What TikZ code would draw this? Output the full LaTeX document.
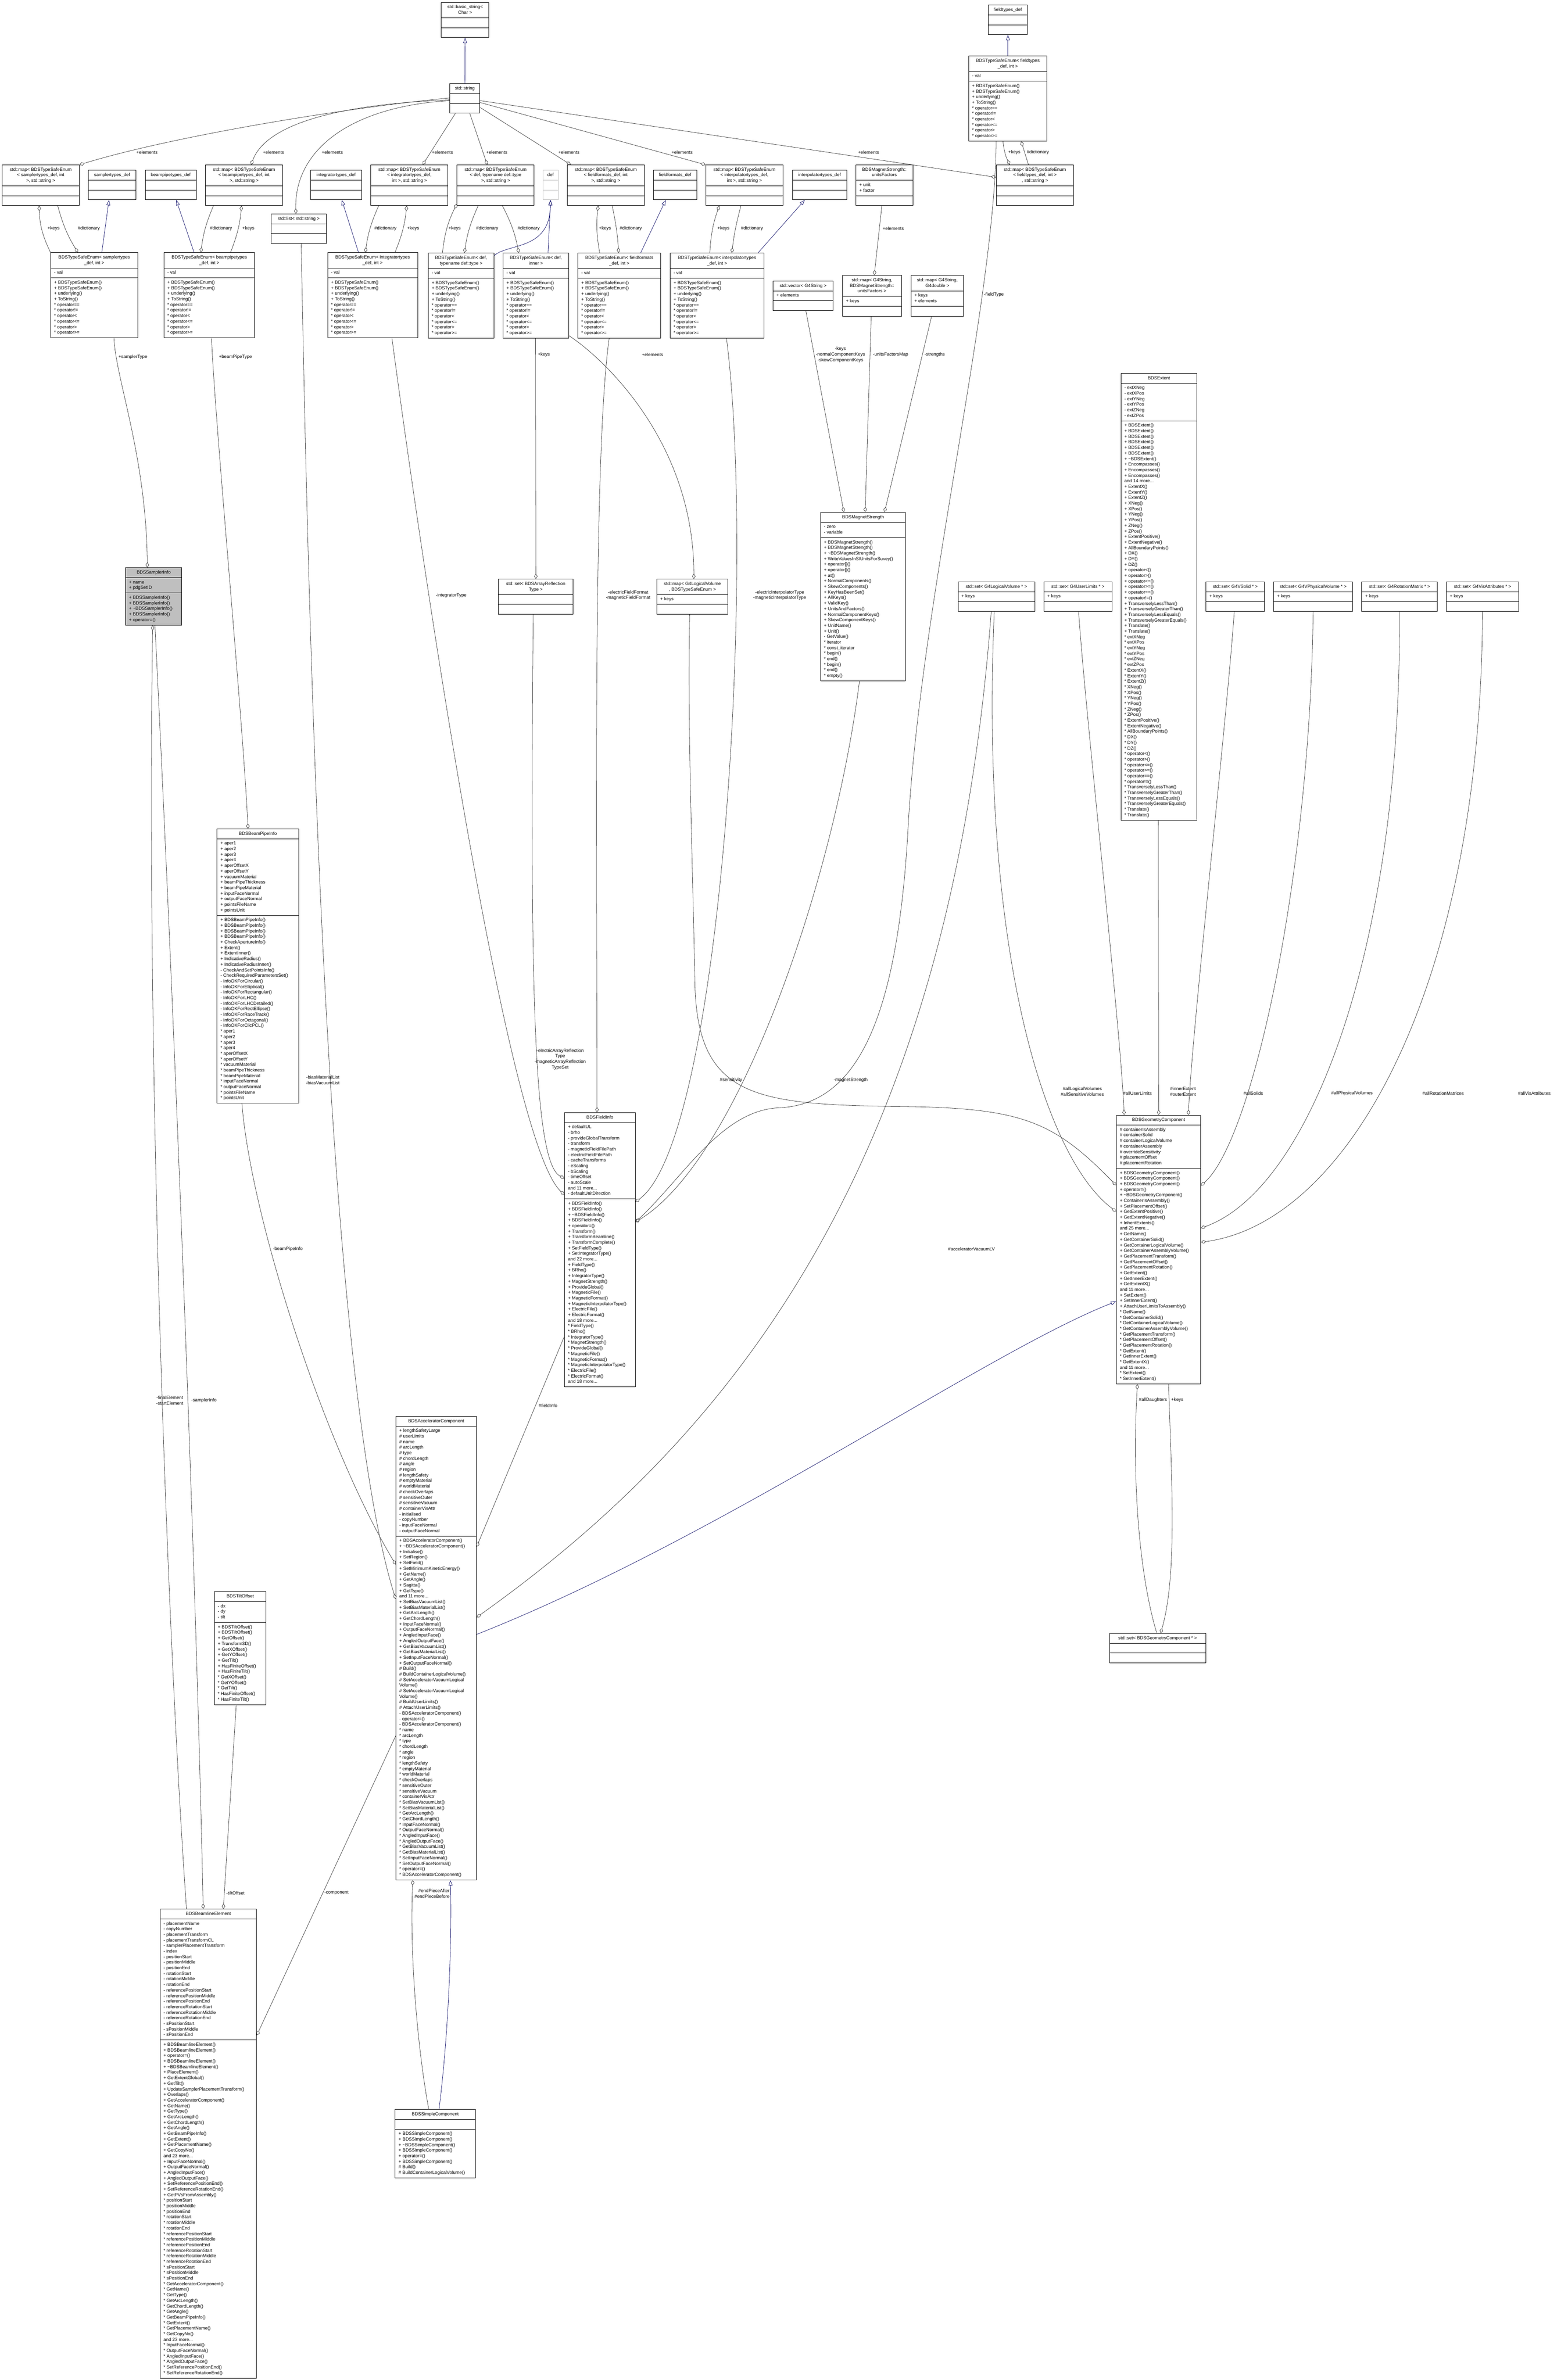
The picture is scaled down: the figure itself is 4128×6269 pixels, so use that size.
\documentclass[tikz,border=0pt]{standalone}
\usepackage{fontspec}
\setmainfont{Liberation Sans}
\usetikzlibrary{shapes.multipart, arrows.meta}

\definecolor{edgegrey}{HTML}{404040}
\definecolor{inhblue}{HTML}{191970}
\definecolor{boxgrey}{HTML}{BFBFBF}

\newcommand{\ttl}[1]{\begin{tabular}{@{}c@{}}#1\end{tabular}}
\newcommand{\rows}[1]{\begin{tabular}{@{}l@{}}#1\end{tabular}}
\newcommand{\enumops}{\rows{+ BDSTypeSafeEnum()\\+ BDSTypeSafeEnum()\\+ underlying()\\+ ToString()\\{*} operator==\\{*} operator!=\\{*} operator<\\{*} operator<=\\{*} operator>\\{*} operator>=}}

\tikzset{
  cls/.style={draw=black, line width=1.2pt, fill=white, rectangle split, rectangle split parts=3,
    rectangle split part align={center,left,left}, rectangle split empty part height=10.26pt,
    rectangle split empty part depth=4.4pt, inner xsep=9pt, inner ysep=5pt, anchor=north west,
    font=\fontsize{12}{14.66}\selectfont},
  agg/.style={draw=edgegrey, line width=1pt, {Diamond[open,length=14pt,width=9pt]}-},
  agge/.style={draw=edgegrey, line width=1pt, -{Diamond[open,length=14pt,width=9pt]}},
  inh/.style={draw=inhblue, line width=1pt, -{Triangle[open,length=14pt,width=10pt]}},
  lbl/.style={font=\fontsize{12}{14.66}\selectfont, inner sep=0pt, align=center}
}

\begin{document}
\begin{tikzpicture}[x=1pt, y=-1pt]
  \fill[white] (0,0) rectangle (4128,6269);
  \useasboundingbox (0,0) rectangle (4128,6269);

  % top row
  \node[cls, minimum width=126pt] (basic) at (1161,6) {\ttl{std::basic\_string<\\Char >}\nodepart{two}\nodepart{three}};
  \node[cls, minimum width=79pt] (str) at (1184,220) {\ttl{std::string}\nodepart{two}\nodepart{three}};
  \node[cls, minimum width=102pt] (fieldtypesDef) at (2602,13) {\ttl{fieldtypes\_def}\nodepart{two}\nodepart{three}};
  \node[cls, minimum width=206pt] (enumFieldtypes) at (2550,147) {\ttl{BDSTypeSafeEnum< fieldtypes\\\_def, int >}\nodepart{two}\rows{- val}\nodepart{three}\enumops};

  \node[cls, minimum width=203pt] (mapSampler) at (5,434) {\ttl{std::map< BDSTypeSafeEnum\\< samplertypes\_def, int\\>, std::string >}\nodepart{two}\nodepart{three}};
  \node[cls, minimum width=125pt] (samplerDef) at (232,448) {\ttl{samplertypes\_def}\nodepart{two}\nodepart{three}};
  \node[cls, minimum width=134pt] (beampipeDef) at (382,448) {\ttl{beampipetypes\_def}\nodepart{two}\nodepart{three}};
  \node[cls, minimum width=202pt] (mapBeampipe) at (541,434) {\ttl{std::map< BDSTypeSafeEnum\\< beampipetypes\_def, int\\>, std::string >}\nodepart{two}\nodepart{three}};
  \node[cls, minimum width=146pt] (strList) at (713,563) {\ttl{std::list< std::string >}\nodepart{two}\nodepart{three}};
  \node[cls, minimum width=133pt] (integratorDef) at (818,448) {\ttl{integratortypes\_def}\nodepart{two}\nodepart{three}};
  \node[cls, minimum width=203pt] (mapIntegrator) at (976,434) {\ttl{std::map< BDSTypeSafeEnum\\< integratortypes\_def,\\int >, std::string >}\nodepart{two}\nodepart{three}};
  \node[cls, minimum width=203pt] (mapDef) at (1203,434) {\ttl{std::map< BDSTypeSafeEnum\\< def, typename def::type\\>, std::string >}\nodepart{two}\nodepart{three}};
  \node[cls, draw=boxgrey, minimum width=40pt] (def) at (1429,448) {\ttl{def}\nodepart{two}\nodepart{three}};
  \node[cls, minimum width=203pt] (mapFieldformats) at (1493,434) {\ttl{std::map< BDSTypeSafeEnum\\< fieldformats\_def, int\\>, std::string >}\nodepart{two}\nodepart{three}};
  \node[cls, minimum width=114pt] (fieldformatsDef) at (1720,448) {\ttl{fieldformats\_def}\nodepart{two}\nodepart{three}};
  \node[cls, minimum width=203pt] (mapInterp) at (1858,434) {\ttl{std::map< BDSTypeSafeEnum\\< interpolatortypes\_def,\\int >, std::string >}\nodepart{two}\nodepart{three}};
  \node[cls, minimum width=143pt] (interpDef) at (2086,448) {\ttl{interpolatortypes\_def}\nodepart{two}\nodepart{three}};
  \node[cls, minimum width=150pt] (unitsFactors) at (2253,434) {\ttl{BDSMagnetStrength::\\unitsFactors}\nodepart{two}\rows{+ unit\\+ factor}\nodepart{three}};
  \node[cls, minimum width=203pt] (mapFieldtypes) at (2623,434) {\ttl{std::map< BDSTypeSafeEnum\\< fieldtypes\_def, int >\\, std::string >}\nodepart{two}\nodepart{three}};

  % enums
  \node[cls, minimum width=229pt] (enumSampler) at (133,665) {\ttl{BDSTypeSafeEnum< samplertypes\\\_def, int >}\nodepart{two}\rows{- val}\nodepart{three}\enumops};
  \node[cls, minimum width=239pt] (enumBeampipe) at (431,665) {\ttl{BDSTypeSafeEnum< beampipetypes\\\_def, int >}\nodepart{two}\rows{- val}\nodepart{three}\enumops};
  \node[cls, minimum width=237pt] (enumIntegrator) at (862,665) {\ttl{BDSTypeSafeEnum< integratortypes\\\_def, int >}\nodepart{two}\rows{- val}\nodepart{three}\enumops};
  \node[cls, minimum width=173pt] (enumDefType) at (1127,666) {\ttl{BDSTypeSafeEnum< def,\\typename def::type >}\nodepart{two}\rows{- val}\nodepart{three}\enumops};
  \node[cls, minimum width=173pt] (enumDefInner) at (1324,666) {\ttl{BDSTypeSafeEnum< def,\\inner >}\nodepart{two}\rows{- val}\nodepart{three}\enumops};
  \node[cls, minimum width=218pt] (enumFieldformats) at (1521,666) {\ttl{BDSTypeSafeEnum< fieldformats\\\_def, int >}\nodepart{two}\rows{- val}\nodepart{three}\enumops};
  \node[cls, minimum width=247pt] (enumInterp) at (1764,666) {\ttl{BDSTypeSafeEnum< interpolatortypes\\\_def, int >}\nodepart{two}\rows{- val}\nodepart{three}\enumops};

  % containers of the magnet strength
  \node[cls, minimum width=158pt] (vecG4String) at (2035,740) {\ttl{std::vector< G4String >}\nodepart{two}\rows{+ elements}\nodepart{three}};
  \node[cls, minimum width=155pt] (mapUnits) at (2218,725) {\ttl{std::map< G4String,\\BDSMagnetStrength::\\unitsFactors >}\nodepart{two}\rows{+ keys}\nodepart{three}};
  \node[cls, minimum width=139pt] (mapDouble) at (2398,725) {\ttl{std::map< G4String,\\G4double >}\nodepart{two}\rows{+ keys\\+ elements}\nodepart{three}};

  \node[cls, minimum width=224pt] (magStrength) at (2160,1349) {\ttl{BDSMagnetStrength}\nodepart{two}\rows{- zero\\- variable}\nodepart{three}\rows{+ BDSMagnetStrength()\\+ BDSMagnetStrength()\\+ \textasciitilde BDSMagnetStrength()\\+ WriteValuesInSIUnitsForSuvey()\\+ operator[]()\\+ operator[]()\\+ at()\\+ NormalComponents()\\+ SkewComponents()\\+ KeyHasBeenSet()\\+ AllKeys()\\+ ValidKey()\\+ UnitsAndFactors()\\+ NormalComponentKeys()\\+ SkewComponentKeys()\\+ UnitName()\\+ Unit()\\- GetValue()\\{*} iterator\\{*} const\_iterator\\{*} begin()\\{*} end()\\{*} begin()\\{*} end()\\{*} empty()}};

  \node[cls, minimum width=200pt] (extent) at (2951,983) {\ttl{BDSExtent}\nodepart{two}\rows{- extXNeg\\- extXPos\\- extYNeg\\- extYPos\\- extZNeg\\- extZPos}\nodepart{three}\rows{+ BDSExtent()\\+ BDSExtent()\\+ BDSExtent()\\+ BDSExtent()\\+ BDSExtent()\\+ BDSExtent()\\+ \textasciitilde BDSExtent()\\+ Encompasses()\\+ Encompasses()\\+ Encompasses()\\and 14 more...\\+ ExtentX()\\+ ExtentY()\\+ ExtentZ()\\+ XNeg()\\+ XPos()\\+ YNeg()\\+ YPos()\\+ ZNeg()\\+ ZPos()\\+ ExtentPositive()\\+ ExtentNegative()\\+ AllBoundaryPoints()\\+ DX()\\+ DY()\\+ DZ()\\+ operator<()\\+ operator>()\\+ operator<=()\\+ operator>=()\\+ operator==()\\+ operator!=()\\+ TransverselyLessThan()\\+ TransverselyGreaterThan()\\+ TransverselyLessEquals()\\+ TransverselyGreaterEquals()\\+ Translate()\\+ Translate()\\{*} extXNeg\\{*} extXPos\\{*} extYNeg\\{*} extYPos\\{*} extZNeg\\{*} extZPos\\{*} ExtentX()\\{*} ExtentY()\\{*} ExtentZ()\\{*} XNeg()\\{*} XPos()\\{*} YNeg()\\{*} YPos()\\{*} ZNeg()\\{*} ZPos()\\{*} ExtentPositive()\\{*} ExtentNegative()\\{*} AllBoundaryPoints()\\{*} DX()\\{*} DY()\\{*} DZ()\\{*} operator<()\\{*} operator>()\\{*} operator<=()\\{*} operator>=()\\{*} operator==()\\{*} operator!=()\\{*} TransverselyLessThan()\\{*} TransverselyGreaterThan()\\{*} TransverselyLessEquals()\\{*} TransverselyGreaterEquals()\\{*} Translate()\\{*} Translate()}};

  % sets
  \node[cls, minimum width=196pt] (setReflection) at (1312,1525) {\ttl{std::set< BDSArrayReflection\\Type >}\nodepart{two}\nodepart{three}};
  \node[cls, minimum width=187pt] (mapLVEnum) at (1729,1525) {\ttl{std::map< G4LogicalVolume\\*, BDSTypeSafeEnum >}\nodepart{two}\rows{+ keys}\nodepart{three}};
  \node[cls, minimum width=202pt] (setLV) at (2522,1532) {\ttl{std::set< G4LogicalVolume * >}\nodepart{two}\rows{+ keys}\nodepart{three}};
  \node[cls, minimum width=179pt] (setUL) at (2748,1532) {\ttl{std::set< G4UserLimits * >}\nodepart{two}\rows{+ keys}\nodepart{three}};
  \node[cls, minimum width=154pt] (setSolid) at (3175,1532) {\ttl{std::set< G4VSolid * >}\nodepart{two}\rows{+ keys}\nodepart{three}};
  \node[cls, minimum width=208pt] (setPV) at (3353,1532) {\ttl{std::set< G4VPhysicalVolume * >}\nodepart{two}\rows{+ keys}\nodepart{three}};
  \node[cls, minimum width=199pt] (setRot) at (3585,1532) {\ttl{std::set< G4RotationMatrix * >}\nodepart{two}\rows{+ keys}\nodepart{three}};
  \node[cls, minimum width=190pt] (setVis) at (3808,1532) {\ttl{std::set< G4VisAttributes * >}\nodepart{two}\rows{+ keys}\nodepart{three}};

  \node[cls, fill=boxgrey, minimum width=148pt] (samplerInfo) at (330,1495) {\ttl{BDSSamplerInfo}\nodepart{two}\rows{+ name\\+ pdgSetID}\nodepart{three}\rows{+ BDSSamplerInfo()\\+ BDSSamplerInfo()\\+ \textasciitilde BDSSamplerInfo()\\+ BDSSamplerInfo()\\+ operator=()}};

  \node[cls, minimum width=215pt] (beamPipeInfo) at (571,2183) {\ttl{BDSBeamPipeInfo}\nodepart{two}\rows{+ aper1\\+ aper2\\+ aper3\\+ aper4\\+ aperOffsetX\\+ aperOffsetY\\+ vacuumMaterial\\+ beamPipeThickness\\+ beamPipeMaterial\\+ inputFaceNormal\\+ outputFaceNormal\\+ pointsFileName\\+ pointsUnit}\nodepart{three}\rows{+ BDSBeamPipeInfo()\\+ BDSBeamPipeInfo()\\+ BDSBeamPipeInfo()\\+ BDSBeamPipeInfo()\\+ CheckApertureInfo()\\+ Extent()\\+ ExtentInner()\\+ IndicativeRadius()\\+ IndicativeRadiusInner()\\- CheckAndSetPointsInfo()\\- CheckRequiredParametersSet()\\- InfoOKForCircular()\\- InfoOKForElliptical()\\- InfoOKForRectangular()\\- InfoOKForLHC()\\- InfoOKForLHCDetailed()\\- InfoOKForRectEllipse()\\- InfoOKForRaceTrack()\\- InfoOKForOctagonal()\\- InfoOKForClicPCL()\\{*} aper1\\{*} aper2\\{*} aper3\\{*} aper4\\{*} aperOffsetX\\{*} aperOffsetY\\{*} vacuumMaterial\\{*} beamPipeThickness\\{*} beamPipeMaterial\\{*} inputFaceNormal\\{*} outputFaceNormal\\{*} pointsFileName\\{*} pointsUnit}};

  \node[cls, minimum width=186pt] (fieldInfo) at (1486,2930) {\ttl{BDSFieldInfo}\nodepart{two}\rows{+ defaultUL\\- brho\\- provideGlobalTransform\\- transform\\- magneticFieldFilePath\\- electricFieldFilePath\\- cacheTransforms\\- eScaling\\- bScaling\\- timeOffset\\- autoScale\\and 11 more...\\- defaultUnitDirection}\nodepart{three}\rows{+ BDSFieldInfo()\\+ BDSFieldInfo()\\+ \textasciitilde BDSFieldInfo()\\+ BDSFieldInfo()\\+ operator=()\\+ Transform()\\+ TransformBeamline()\\+ TransformComplete()\\+ SetFieldType()\\+ SetIntegratorType()\\and 22 more...\\+ FieldType()\\+ BRho()\\+ IntegratorType()\\+ MagnetStrength()\\+ ProvideGlobal()\\+ MagneticFile()\\+ MagneticFormat()\\+ MagneticInterpolatorType()\\+ ElectricFile()\\+ ElectricFormat()\\and 18 more...\\{*} FieldType()\\{*} BRho()\\{*} IntegratorType()\\{*} MagnetStrength()\\{*} ProvideGlobal()\\{*} MagneticFile()\\{*} MagneticFormat()\\{*} MagneticInterpolatorType()\\{*} ElectricFile()\\{*} ElectricFormat()\\and 18 more...}};

  \node[cls, minimum width=222pt] (geomComp) at (2939,2937) {\ttl{BDSGeometryComponent}\nodepart{two}\rows{\# containerIsAssembly\\\# containerSolid\\\# containerLogicalVolume\\\# containerAssembly\\\# overrideSensitivity\\\# placementOffset\\\# placementRotation}\nodepart{three}\rows{+ BDSGeometryComponent()\\+ BDSGeometryComponent()\\+ BDSGeometryComponent()\\+ operator=()\\+ \textasciitilde BDSGeometryComponent()\\+ ContainerIsAssembly()\\+ SetPlacementOffset()\\+ GetExtentPositive()\\+ GetExtentNegative()\\+ InheritExtents()\\and 25 more...\\+ GetName()\\+ GetContainerSolid()\\+ GetContainerLogicalVolume()\\+ GetContainerAssemblyVolume()\\+ GetPlacementTransform()\\+ GetPlacementOffset()\\+ GetPlacementRotation()\\+ GetExtent()\\+ GetInnerExtent()\\+ GetExtentX()\\and 11 more...\\+ SetExtent()\\+ SetInnerExtent()\\+ AttachUserLimitsToAssembly()\\{*} GetName()\\{*} GetContainerSolid()\\{*} GetContainerLogicalVolume()\\{*} GetContainerAssemblyVolume()\\{*} GetPlacementTransform()\\{*} GetPlacementOffset()\\{*} GetPlacementRotation()\\{*} GetExtent()\\{*} GetInnerExtent()\\{*} GetExtentX()\\and 11 more...\\{*} SetExtent()\\{*} SetInnerExtent()}};

  \node[cls, minimum width=212pt] (accComp) at (1042,3730) {\ttl{BDSAcceleratorComponent}\nodepart{two}\rows{+ lengthSafetyLarge\\\# userLimits\\\# name\\\# arcLength\\\# type\\\# chordLength\\\# angle\\\# region\\\# lengthSafety\\\# emptyMaterial\\\# worldMaterial\\\# checkOverlaps\\\# sensitiveOuter\\\# sensitiveVacuum\\\# containerVisAttr\\- initialised\\- copyNumber\\- inputFaceNormal\\- outputFaceNormal}\nodepart{three}\rows{+ BDSAcceleratorComponent()\\+ \textasciitilde BDSAcceleratorComponent()\\+ Initialise()\\+ SetRegion()\\+ SetField()\\+ SetMinimumKineticEnergy()\\+ GetName()\\+ GetAngle()\\+ Sagitta()\\+ GetType()\\and 11 more...\\+ SetBiasVacuumList()\\+ SetBiasMaterialList()\\+ GetArcLength()\\+ GetChordLength()\\+ InputFaceNormal()\\+ OutputFaceNormal()\\+ AngledInputFace()\\+ AngledOutputFace()\\+ GetBiasVacuumList()\\+ GetBiasMaterialList()\\+ SetInputFaceNormal()\\+ SetOutputFaceNormal()\\\# Build()\\\# BuildContainerLogicalVolume()\\\# SetAcceleratorVacuumLogical\\Volume()\\\# SetAcceleratorVacuumLogical\\Volume()\\\# BuildUserLimits()\\\# AttachUserLimits()\\- BDSAcceleratorComponent()\\- operator=()\\- BDSAcceleratorComponent()\\{*} name\\{*} arcLength\\{*} type\\{*} chordLength\\{*} angle\\{*} region\\{*} lengthSafety\\{*} emptyMaterial\\{*} worldMaterial\\{*} checkOverlaps\\{*} sensitiveOuter\\{*} sensitiveVacuum\\{*} containerVisAttr\\{*} SetBiasVacuumList()\\{*} SetBiasMaterialList()\\{*} GetArcLength()\\{*} GetChordLength()\\{*} InputFaceNormal()\\{*} OutputFaceNormal()\\{*} AngledInputFace()\\{*} AngledOutputFace()\\{*} GetBiasVacuumList()\\{*} GetBiasMaterialList()\\{*} SetInputFaceNormal()\\{*} SetOutputFaceNormal()\\{*} operator=()\\{*} BDSAcceleratorComponent()}};

  \node[cls, minimum width=136pt] (tiltOffset) at (564,4192) {\ttl{BDSTiltOffset}\nodepart{two}\rows{- dx\\- dy\\- tilt}\nodepart{three}\rows{+ BDSTiltOffset()\\+ BDSTiltOffset()\\+ GetOffset()\\+ Transform3D()\\+ GetXOffset()\\+ GetYOffset()\\+ GetTilt()\\+ HasFiniteOffset()\\+ HasFiniteTilt()\\{*} GetXOffset()\\{*} GetYOffset()\\{*} GetTilt()\\{*} HasFiniteOffset()\\{*} HasFiniteTilt()}};

  \node[cls, minimum width=253pt] (setGeom) at (2921,4302) {\ttl{std::set< BDSGeometryComponent * >}\nodepart{two}\nodepart{three}};

  \node[cls, minimum width=254pt] (beamlineEl) at (421,5028) {\ttl{BDSBeamlineElement}\nodepart{two}\rows{- placementName\\- copyNumber\\- placementTransform\\- placementTransformCL\\- samplerPlacementTransform\\- index\\- positionStart\\- positionMiddle\\- positionEnd\\- rotationStart\\- rotationMiddle\\- rotationEnd\\- referencePositionStart\\- referencePositionMiddle\\- referencePositionEnd\\- referenceRotationStart\\- referenceRotationMiddle\\- referenceRotationEnd\\- sPositionStart\\- sPositionMiddle\\- sPositionEnd}\nodepart{three}\rows{+ BDSBeamlineElement()\\+ BDSBeamlineElement()\\+ operator=()\\+ BDSBeamlineElement()\\+ \textasciitilde BDSBeamlineElement()\\+ PlaceElement()\\+ GetExtentGlobal()\\+ GetTilt()\\+ UpdateSamplerPlacementTransform()\\+ Overlaps()\\+ GetAcceleratorComponent()\\+ GetName()\\+ GetType()\\+ GetArcLength()\\+ GetChordLength()\\+ GetAngle()\\+ GetBeamPipeInfo()\\+ GetExtent()\\+ GetPlacementName()\\+ GetCopyNo()\\and 23 more...\\+ InputFaceNormal()\\+ OutputFaceNormal()\\+ AngledInputFace()\\+ AngledOutputFace()\\+ SetReferencePositionEnd()\\+ SetReferenceRotationEnd()\\+ GetPVsFromAssembly()\\{*} positionStart\\{*} positionMiddle\\{*} positionEnd\\{*} rotationStart\\{*} rotationMiddle\\{*} rotationEnd\\{*} referencePositionStart\\{*} referencePositionMiddle\\{*} referencePositionEnd\\{*} referenceRotationStart\\{*} referenceRotationMiddle\\{*} referenceRotationEnd\\{*} sPositionStart\\{*} sPositionMiddle\\{*} sPositionEnd\\{*} GetAcceleratorComponent()\\{*} GetName()\\{*} GetType()\\{*} GetArcLength()\\{*} GetChordLength()\\{*} GetAngle()\\{*} GetBeamPipeInfo()\\{*} GetExtent()\\{*} GetPlacementName()\\{*} GetCopyNo()\\and 23 more...\\{*} InputFaceNormal()\\{*} OutputFaceNormal()\\{*} AngledInputFace()\\{*} AngledOutputFace()\\{*} SetReferencePositionEnd()\\{*} SetReferenceRotationEnd()}};

  \node[cls, minimum width=211pt] (simpleComp) at (1040,5556) {\ttl{BDSSimpleComponent}\nodepart{two}\nodepart{three}\rows{+ BDSSimpleComponent()\\+ BDSSimpleComponent()\\+ \textasciitilde BDSSimpleComponent()\\+ BDSSimpleComponent()\\+ operator=()\\+ BDSSimpleComponent()\\\# Build()\\\# BuildContainerLogicalVolume()}};

  % inheritance
  \draw[inh] (str.north) -- (basic.south);
  \draw[inh] ([xshift=135pt]enumSampler.north west) -- ([xshift=55pt]samplerDef.south west);
  \draw[inh] ([xshift=80pt]enumBeampipe.north west) -- ([xshift=82pt]beampipeDef.south west);
  \draw[inh] ([xshift=82pt]enumIntegrator.north west) -- ([xshift=82pt]integratorDef.south west);
  \draw[inh] ([yshift=-7pt]enumDefType.north east) .. controls (1340,640) and (1448,660) .. (def.south);
  \draw[inh] ([xshift=119pt]enumDefInner.north west) -- (def.south);
  \draw[inh] ([xshift=166pt]enumFieldformats.north west) -- ([xshift=33pt]fieldformatsDef.south west);
  \draw[inh] ([xshift=232pt]enumInterp.north west) -- ([xshift=33pt]interpDef.south west);
  \draw[inh] ([xshift=104pt]enumFieldtypes.north west) -- ([xshift=52pt]fieldtypesDef.south west);
  \draw[inh] ([yshift=-575pt]accComp.north east) .. controls (1900,4050) and (2600,3560) .. ([yshift=-491pt]geomComp.north west);
  \draw[inh] ([xshift=116pt]simpleComp.north west) .. controls (1182,5350) and (1190,5100) .. ([xshift=144pt]accComp.south west);

  % elements of std::string
  \draw[agg] (mapSampler.north east) .. controls (450,360) and (900,285) .. ([yshift=-38pt]str.north west);
  \draw[agg] ([xshift=120pt]mapBeampipe.north west) .. controls (700,330) and (880,275) .. ([yshift=-43pt]str.north west);
  \draw[agg] ([xshift=66pt]strList.north west) .. controls (775,390) and (930,280) .. ([yshift=-45pt]str.north west);
  \draw[agg] ([xshift=137pt]mapIntegrator.north west) -- ([xshift=15pt]str.south west);
  \draw[agg] ([xshift=80pt]mapDef.north west) -- ([xshift=53pt]str.south west);
  \draw[agg] ([xshift=10pt]mapFieldformats.north west) -- ([yshift=-63pt]str.north east);
  \draw[agg] (mapInterp.north west) -- ([yshift=-50pt]str.north east);
  \draw[agg] ([yshift=-33pt]mapFieldtypes.north west) -- ([yshift=-45pt]str.north east);

  % keys and dictionaries
  \draw[agg] ([xshift=98pt]mapSampler.south west) to[bend right=12] (enumSampler.north west);
  \draw[agge] ([xshift=147pt]mapSampler.south west) to[bend right=8] ([xshift=72pt]enumSampler.north west);
  \draw[agge] ([xshift=21pt]mapBeampipe.south west) to[bend right=8] ([xshift=98pt]enumBeampipe.north west);
  \draw[agg] ([xshift=95pt]mapBeampipe.south west) to[bend left=8] ([xshift=176pt]enumBeampipe.north west);
  \draw[agge] ([xshift=21pt]mapIntegrator.south west) to[bend right=8] ([xshift=100pt]enumIntegrator.north west);
  \draw[agg] ([xshift=95pt]mapIntegrator.south west) to[bend left=8] ([xshift=178pt]enumIntegrator.north west);
  \draw[agg] ([yshift=5pt]mapDef.south west) to[bend right=10] ([xshift=38pt]enumDefType.north west);
  \draw[agge] ([xshift=56pt]mapDef.south west) to[bend right=8] ([xshift=96pt]enumDefType.north west);
  \draw[agge] ([xshift=120pt]mapDef.south west) to[bend left=8] ([xshift=42pt]enumDefInner.north west);
  \draw[agg] ([xshift=82pt]mapFieldformats.south west) to[bend right=8] ([xshift=58pt]enumFieldformats.north west);
  \draw[agge] ([xshift=119pt]mapFieldformats.south west) to[bend left=4] ([xshift=108pt]enumFieldformats.north west);
  \draw[agg] ([xshift=36pt]mapInterp.south west) to[bend right=8] ([xshift=105pt]enumInterp.north west);
  \draw[agge] ([xshift=93pt]mapInterp.south west) to[bend right=4] ([xshift=163pt]enumInterp.north west);
  \draw[agg] ([xshift=36pt]mapFieldtypes.north west) to[bend left=10] ([xshift=91pt]enumFieldtypes.south west);
  \draw[agg] ([xshift=139pt]enumFieldtypes.south west) -- ([xshift=85pt]mapFieldtypes.north west);
  \draw[agg] ([xshift=84pt]mapUnits.north west) -- ([xshift=69pt]unitsFactors.south west);

  % magnet strength
  \draw[agg] ([xshift=62pt]magStrength.north west) -- ([xshift=87pt]vecG4String.south west);
  \draw[agg] ([xshift=118pt]magStrength.north west) -- ([xshift=76pt]mapUnits.south west);
  \draw[agg] ([xshift=169pt]magStrength.north west) -- ([xshift=55pt]mapDouble.south west);

  % reflection and sensitivity containers
  \draw[agg] ([xshift=99pt]setReflection.north west) -- ([xshift=86pt]enumDefInner.south west);
  \draw[agg] ([xshift=98pt]mapLVEnum.north west) .. controls (1827,1150) and (1570,930) .. ([yshift=7pt]enumDefInner.south east);

  % sampler info and beam pipe info
  \draw[agg] ([xshift=58pt]samplerInfo.north west) .. controls (385,1200) and (305,1000) .. ([xshift=167pt]enumSampler.south west);
  \draw[agg] ([xshift=82pt]beamPipeInfo.north west) .. controls (640,1900) and (565,1100) .. ([xshift=126pt]enumBeampipe.south west);

  % field info
  \draw[agg] ([xshift=86pt]fieldInfo.north west) .. controls (1572,2300) and (1560,1200) .. ([xshift=83pt]enumFieldformats.south west);
  \draw[agg] ([yshift=-174pt]fieldInfo.north west) .. controls (1405,3060) and (1395,2600) .. ([xshift=92pt]setReflection.south west);
  \draw[agg] ([yshift=-217pt]fieldInfo.north west) .. controls (1330,3000) and (1100,1400) .. ([xshift=170pt]enumIntegrator.south west);
  \draw[agg] ([yshift=-236pt]fieldInfo.north east) .. controls (1900,3000) and (1990,1500) .. ([xshift=149pt]enumInterp.south west);
  \draw[agg] ([yshift=-289pt]fieldInfo.north east) .. controls (1950,3050) and (2200,2300) .. ([xshift=103pt]magStrength.south west);
  \draw[agg] ([yshift=-289pt]fieldInfo.north east) .. controls (1800,3100) and (1900,2925) .. (2050,2918) .. controls (2250,2910) and (2360,2700) .. (2390,2200) .. controls (2420,1600) and (2620,800) .. ([xshift=73pt]enumFieldtypes.south west);

  % geometry component
  \draw[agg] ([xshift=21pt]geomComp.north west) .. controls (2950,2700) and (2860,1900) .. ([xshift=92pt]setUL.south west);
  \draw[agg] ([xshift=112pt]geomComp.north west) -- ([xshift=99pt]extent.south west);
  \draw[agg] ([xshift=190pt]geomComp.north west) .. controls (3140,2700) and (3230,1900) .. ([xshift=75pt]setSolid.south west);
  \draw[agg] ([yshift=-185pt]geomComp.north west) .. controls (2780,2960) and (2700,2920) .. (2400,2915) .. controls (2000,2910) and (1840,2900) .. (1830,2600) .. controls (1822,2200) and (1810,1900) .. ([xshift=87pt]mapLVEnum.south west);
  \draw[agg] ([yshift=-254pt]geomComp.north west) .. controls (2750,3050) and (2580,2500) .. ([xshift=96pt]setLV.south west);
  \draw[agg] ([yshift=-186pt]geomComp.north east) .. controls (3300,3000) and (3450,2300) .. (setPV.south);
  \draw[agg] ([yshift=-298pt]geomComp.north east) .. controls (3450,3130) and (3690,2500) .. (setRot.south);
  \draw[agg] ([yshift=-335pt]geomComp.north east) .. controls (3550,3220) and (3900,2600) .. (setVis.south);
  \draw[agg] ([xshift=56pt]geomComp.south west) .. controls (2980,3900) and (3000,4150) .. ([xshift=125pt]setGeom.north west);
  \draw[agg] ([xshift=135pt]setGeom.north west) .. controls (3100,4150) and (3085,3900) .. ([xshift=138pt]geomComp.south west);

  % accelerator component
  \draw[agg] ([yshift=-344pt]accComp.north east) -- ([yshift=-590pt]fieldInfo.north west);
  \draw[agg] ([yshift=-530pt]accComp.north east) .. controls (1900,3800) and (2500,3100) .. ([xshift=88pt]setLV.south west);
  \draw[agg] ([yshift=-391pt]accComp.north west) .. controls (850,3800) and (660,3200) .. ([xshift=66pt]beamPipeInfo.south west);
  \draw[agg] ([yshift=-482pt]accComp.north west) .. controls (850,3600) and (810,1500) .. ([xshift=80pt]strList.south west);
  \draw[agg] ([xshift=45pt]accComp.south west) .. controls (1078,5150) and (1100,5400) .. ([xshift=89pt]simpleComp.north west);

  % beamline element
  \draw[agg] ([yshift=-333pt]beamlineEl.north east) -- ([yshift=-842pt]accComp.north west);
  \draw[agg] ([xshift=167pt]beamlineEl.north west) -- ([xshift=58pt]tiltOffset.south west);
  \draw[agg] ([xshift=114pt]beamlineEl.north west) .. controls (520,4300) and (470,2900) .. ([xshift=78pt]samplerInfo.south west);
  \draw[agg] ([xshift=72pt]samplerInfo.south west) .. controls (385,2800) and (440,4300) .. ([xshift=70pt]beamlineEl.north west);

  % labels
  \node[lbl] (le1) at (387,401) {+elements};
  \node[lbl] (le2) at (720,401) {+elements};
  \node[lbl] (le3) at (875,401) {+elements};
  \node[lbl] (le4) at (1165,401) {+elements};
  \node[lbl] (le5) at (1308,401) {+elements};
  \node[lbl] (le6) at (1498,401) {+elements};
  \node[lbl] (le7) at (1796,401) {+elements};
  \node[lbl] (le8) at (2287,401) {+elements};
  \node[lbl] (lk1) at (141,602) {+keys};
  \node[lbl] (ld1) at (234,602) {\#dictionary};
  \node[lbl] (ld2) at (582,602) {\#dictionary};
  \node[lbl] (lk2) at (654,602) {+keys};
  \node[lbl] (ld3) at (1015,602) {\#dictionary};
  \node[lbl] (lk3) at (1088,602) {+keys};
  \node[lbl] (lk4) at (1197,602) {+keys};
  \node[lbl] (ld4) at (1283,602) {\#dictionary};
  \node[lbl] (ld5) at (1392,602) {\#dictionary};
  \node[lbl] (lk5) at (1593,602) {+keys};
  \node[lbl] (ld6) at (1661,602) {\#dictionary};
  \node[lbl] (lk6) at (1905,602) {+keys};
  \node[lbl] (ld7) at (1980,602) {\#dictionary};
  \node[lbl] (le9) at (2352,602) {+elements};
  \node[lbl] (lk7) at (2671,401) {+keys};
  \node[lbl] (ld8) at (2733,401) {\#dictionary};
  \node[lbl] (lft) at (2617,776) {-fieldType};
  \node[lbl] (lmk) at (2213,934) {-keys\\-normalComponentKeys\\-skewComponentKeys};
  \node[lbl] (luf) at (2345,934) {-unitsFactorsMap};
  \node[lbl] (lst) at (2461,934) {-strengths};
  \node[lbl] (lk8) at (1432,934) {+keys};
  \node[lbl] (le10) at (1718,934) {+elements};
  \node[lbl] (lst2) at (350,940) {+samplerType};
  \node[lbl] (lbt) at (620,940) {+beamPipeType};
  \node[lbl] (lit) at (1188,1568) {-integratorType};
  \node[lbl] (lff) at (1654,1568) {-electricFieldFormat\\-magneticFieldFormat};
  \node[lbl] (lip) at (2053,1568) {-electricInterpolatorType\\-magneticInterpolatorType};
  \node[lbl] (lar) at (1475,2790) {-electricArrayReflection\\Type\\-magneticArrayReflection\\TypeSet};
  \node[lbl] (lms) at (2240,2845) {-magnetStrength};
  \node[lbl] (lsn) at (1925,2845) {\#sensitivity};
  \node[lbl] (llv) at (2850,2875) {\#allLogicalVolumes\\\#allSensitiveVolumes};
  \node[lbl] (lul) at (2995,2880) {\#allUserLimits};
  \node[lbl] (lex) at (3115,2875) {\#innerExtent\\\#outerExtent};
  \node[lbl] (lso) at (3300,2880) {\#allSolids};
  \node[lbl] (lpv) at (3560,2880) {\#allPhysicalVolumes};
  \node[lbl] (lrm) at (3800,2880) {\#allRotationMatrices};
  \node[lbl] (lva) at (4040,2880) {\#allVisAttributes};
  \node[lbl] (lbp) at (758,3290) {-beamPipeInfo};
  \node[lbl] (lbl) at (850,2845) {-biasMaterialList\\-biasVacuumList};
  \node[lbl] (lav) at (2558,3290) {\#acceleratorVacuumLV};
  \node[lbl] (lfe) at (447,3689) {-finalElement\\-startElement};
  \node[lbl] (lsi) at (537,3689) {-samplerInfo};
  \node[lbl] (lfi) at (1443,3703) {\#fieldInfo};
  \node[lbl] (lad) at (3036,3688) {\#allDaughters};
  \node[lbl] (lk9) at (3100,3688) {+keys};
  \node[lbl, align=right, anchor=east] (lep) at (1184,4988) {\#endPieceAfter\\\#endPieceBefore};
  \node[lbl] (lto) at (620,4986) {-tiltOffset};
  \node[lbl] (lco) at (886,4986) {-component};
\end{tikzpicture}
\end{document}
